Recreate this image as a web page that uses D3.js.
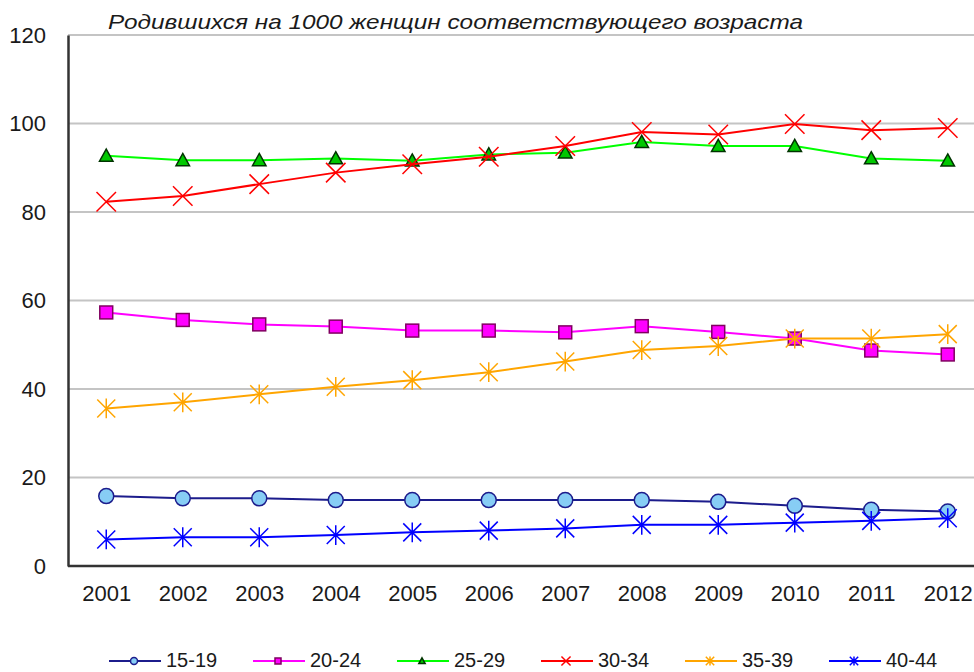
<!DOCTYPE html>
<html><head><meta charset="utf-8">
<script src="https://cdn.jsdelivr.net/npm/d3@7"></script>
<style>
html,body{margin:0;padding:0;background:#fff;overflow:hidden}
text{font-family:Arial,"Liberation Sans",sans-serif}
</style></head>
<body><svg id="c" width="974" height="672"></svg>
<script>
const title = "Родившихся на 1000 женщин соответствующего возраста";
const years = ["2001","2002","2003","2004","2005","2006","2007","2008","2009","2010","2011","2012"];
const yTicks = [0,20,40,60,80,100,120];
const seriesNames = ["15-19","20-24","25-29","30-34","35-39","40-44"];
const s15_19 = [15.8,15.3,15.3,14.9,14.9,14.9,14.9,14.9,14.5,13.6,12.7,12.3];
const s20_24 = [57.3,55.6,54.6,54.1,53.2,53.2,52.8,54.2,52.9,51.4,48.7,47.8];
const s25_29 = [92.7,91.7,91.7,92.1,91.6,93.0,93.4,95.8,94.9,94.9,92.1,91.6];
const s30_34 = [82.3,83.6,86.3,88.9,90.8,92.5,94.9,98.1,97.5,99.9,98.5,99.0];
const s35_39 = [35.6,37.0,38.8,40.5,42.0,43.8,46.2,48.8,49.7,51.4,51.4,52.4];
const s40_44 = [6.0,6.5,6.5,7.0,7.6,8.0,8.5,9.3,9.3,9.8,10.2,10.8];

const seriesValues = [s15_19,s20_24,s25_29,s30_34,s35_39,s40_44];
const styles = [
  {line:"#1c1c8c", marker:"circle", fill:"#87cdf5", stroke:"#1c1c8c"},
  {line:"#ff00ff", marker:"square", fill:"#ff00ff", stroke:"#800060"},
  {line:"#00ff00", marker:"triangle", fill:"#00c800", stroke:"#003300"},
  {line:"#ff0000", marker:"x", fill:"none", stroke:"#ff0000"},
  {line:"#ffa500", marker:"star", fill:"none", stroke:"#ffa500"},
  {line:"#0000ff", marker:"star", fill:"none", stroke:"#0000ff"}
];

const svg = d3.select("#c");
const mLeft = 68, mBottom = 566, mTop = 35, mRightEnd = 986;
const x = d3.scalePoint().domain(years).range([mLeft, mRightEnd]).padding(0.5);
const y = d3.scaleLinear().domain([0,120]).range([mBottom, mTop]);

// gridlines
svg.append("g").selectAll("line").data(yTicks.filter(d=>d>0)).join("line")
  .attr("x1", mLeft).attr("x2", 974).attr("y1", d=>y(d)).attr("y2", d=>y(d))
  .attr("stroke", "#c4c4c4").attr("stroke-width", 2);

// y axis
const ya = svg.append("g").attr("transform", `translate(${mLeft},0)`)
  .call(d3.axisLeft(y).tickValues(yTicks).tickSize(0).tickPadding(22));
ya.select(".domain").attr("stroke","#333").attr("stroke-width",2.5);
ya.selectAll("text").attr("font-size","22px").attr("fill","#1a1a1a");

// x axis
const xa = svg.append("g").attr("transform", `translate(0,${mBottom})`)
  .call(d3.axisBottom(x).tickSize(0).tickPadding(19));
xa.select(".domain").attr("d", `M${mLeft},0H974`).attr("stroke","#333").attr("stroke-width",2.5);
xa.selectAll("text").attr("font-size","22px").attr("fill","#1a1a1a");

// title
svg.append("text").attr("x",108).attr("y",29).text(title)
  .attr("font-size","21px").attr("font-style","italic").attr("fill","#1a1a1a")
  .attr("textLength",695).attr("lengthAdjust","spacingAndGlyphs");

function drawMarker(g, type, st, s) {
  if (type==="circle") {
    g.append("circle").attr("r", s*0.5).attr("fill", st.fill).attr("stroke", st.stroke).attr("stroke-width", 1.5);
  } else if (type==="square") {
    g.append("rect").attr("x",-s*0.43).attr("y",-s*0.43).attr("width",s*0.86).attr("height",s*0.86)
      .attr("fill", st.fill).attr("stroke", st.stroke).attr("stroke-width", 1.5);
  } else if (type==="triangle") {
    const h = s*0.45;
    g.append("path").attr("d", `M0,${-h}L${h},${h*0.8}L${-h},${h*0.8}Z`)
      .attr("fill", st.fill).attr("stroke", st.stroke).attr("stroke-width", 1.5);
  } else if (type==="x") {
    const h = s*0.65;
    g.append("path").attr("d", `M${-h},${-h}L${h},${h}M${-h},${h}L${h},${-h}`)
      .attr("stroke", st.stroke).attr("stroke-width", 1.5).attr("fill","none");
  } else if (type==="star") {
    const h = s*0.6;
    g.append("path").attr("d", `M${-h},${-h}L${h},${h}M${-h},${h}L${h},${-h}M0,${-h*1.1}V${h*1.1}`)
      .attr("stroke", st.stroke).attr("stroke-width", 1.5).attr("fill","none");
  }
}

const lineGen = d3.line().x((d,i)=>x(years[i])).y(d=>y(d));
seriesValues.forEach((vals, si) => {
  const st = styles[si];
  const g = svg.append("g");
  g.append("path").attr("d", lineGen(vals)).attr("fill","none")
    .attr("stroke", st.line).attr("stroke-width", 2);
  vals.forEach((v,i) => {
    const m = g.append("g").attr("transform", `translate(${x(years[i])},${y(v)})`);
    drawMarker(m, st.marker, st, 15);
  });
});

// legend
const legend = svg.append("g");
seriesNames.forEach((name, si) => {
  const st = styles[si];
  const lx = 109 + si*144, ly = 661;
  const g = legend.append("g");
  g.append("line").attr("x1", lx).attr("x2", lx+52).attr("y1", ly).attr("y2", ly)
    .attr("stroke", st.line).attr("stroke-width", 2);
  const m = g.append("g").attr("transform", `translate(${lx+25},${ly})`);
  drawMarker(m, st.marker, st, 7);
  g.append("text").attr("x", lx+57).attr("y", ly).attr("dy","0.3em")
    .attr("font-size","20px").attr("fill","#1a1a1a").text(name);
});
</script></body></html>
